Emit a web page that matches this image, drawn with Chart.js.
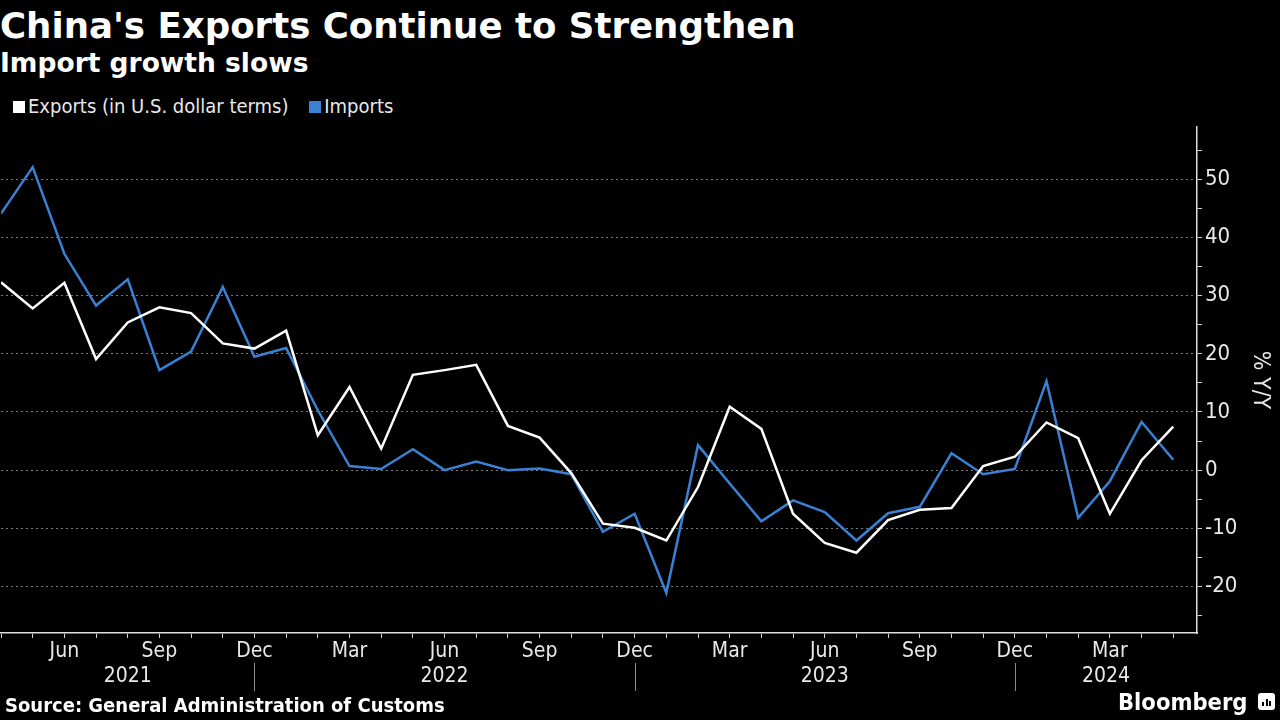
<!DOCTYPE html>
<html>
<head>
<meta charset="utf-8">
<script src="https://cdn.jsdelivr.net/npm/chart.js@4"></script>
<style>
  html, body { margin: 0; padding: 0; background: #000; }
  body { width: 1280px; height: 720px; position: relative; overflow: hidden; font-family: "DejaVu Sans", sans-serif; color: #fff; }
  #chart { position: absolute; left: 0; top: 0; }
  .title { position: absolute; left: 0; top: 5px; font-size: 35.6px; font-weight: bold; white-space: nowrap; line-height: 42px; }
  .subtitle { position: absolute; left: 0; top: 47px; font-size: 26.5px; font-weight: bold; white-space: nowrap; line-height: 32px; }
  .legend { position: absolute; left: 13px; top: 94px; font-size: 20px; line-height: 24px; font-family: "DejaVu Sans Condensed", "DejaVu Sans", sans-serif; font-stretch: condensed; color: #e8e8e8; white-space: nowrap; }
  .legend span.sw { display: inline-block; width: 12px; height: 12px; margin-right: 3px; vertical-align: 0px; }
  .legend span.item { margin-right: 15px; }
  .source { position: absolute; left: 5px; top: 693px; font-size: 20px; line-height: 24px; font-weight: bold; font-family: "DejaVu Sans Condensed", "DejaVu Sans", sans-serif; font-stretch: condensed; white-space: nowrap; }
  .brand { position: absolute; left: 1118px; top: 688px; font-size: 23.5px; line-height: 28px; font-weight: bold; font-family: "DejaVu Sans Condensed", "DejaVu Sans", sans-serif; font-stretch: condensed; white-space: nowrap; }
  .icon { position: absolute; left: 1258px; top: 693px; width: 17px; height: 17px; background: #fff; border-radius: 3px; }
  .icon i { position: absolute; bottom: 4px; width: 2px; background: #000; }
</style>
</head>
<body>
<div class="title">China's Exports Continue to Strengthen</div>
<div class="subtitle">Import growth slows</div>
<div class="legend">
  <span class="item"><span class="sw" style="background:#ffffff"></span>Exports (in U.S. dollar terms)</span>
  <span class="item"><span class="sw" style="background:#3a80d4"></span>Imports</span>
</div>
<canvas id="chart" width="1280" height="720"></canvas>
<div class="source">Source: General Administration of Customs</div>
<div class="brand">Bloomberg</div>
<div class="icon"><i style="left:4px;height:4px"></i><i style="left:7.5px;height:7px"></i><i style="left:11px;height:5px"></i></div>
<script>
// Apr 2021 .. May 2024, monthly, % y/y
const months = ['Apr','May','Jun','Jul','Aug','Sep','Oct','Nov','Dec','Jan','Feb','Mar',
                'Apr','May','Jun','Jul','Aug','Sep','Oct','Nov','Dec','Jan','Feb','Mar',
                'Apr','May','Jun','Jul','Aug','Sep','Oct','Nov','Dec','Jan','Feb','Mar',
                'Apr','May'];
const exportsYoY = [32.3, 27.8, 32.2, 19.1, 25.4, 28.0, 27.0, 21.8, 20.9, 24.0, 6.0, 14.3,
                    3.7, 16.4, 17.2, 18.1, 7.6, 5.6, -0.5, -9.2, -9.9, -12.1, -2.9, 10.9,
                    7.1, -7.5, -12.5, -14.2, -8.6, -6.8, -6.5, 0.7, 2.3, 8.2, 5.5, -7.5,
                    1.7, 7.5];
const importsYoY = [44.1, 52.1, 37.2, 28.3, 32.8, 17.2, 20.4, 31.5, 19.5, 21.0, 10.3, 0.7,
                    0.2, 3.6, 0.0, 1.5, 0.0, 0.3, -0.7, -10.6, -7.5, -21.1, 4.3, -2.3,
                    -8.8, -5.2, -7.2, -12.1, -7.4, -6.3, 2.9, -0.7, 0.2, 15.3, -8.2, -1.9,
                    8.3, 1.8];
const shownMonths = ['Mar', 'Jun', 'Sep', 'Dec'];
const yearLabels = ['2021', '2022', '2023', '2024'];
const yearBreaks = [8, 20, 32]; // index of each December
const yTicks = [-25, -20, -15, -10, -5, 0, 5, 10, 15, 20, 25, 30, 35, 40, 45, 50, 55];

const condensed = '"DejaVu Sans Condensed", "DejaVu Sans", sans-serif';

function toPoints(arr) {
    return arr.map((v, i) => ({ x: i, y: v }));
}

// year labels and separators under the month ticks
const yearPlugin = {
    id: 'yearRow',
    afterDraw(chart) {
        const ctx = chart.ctx;
        const xs = chart.scales.x;
        const edges = [chart.chartArea.left]
            .concat(yearBreaks.map(b => xs.getPixelForValue(b)))
            .concat([chart.chartArea.right]);
        ctx.save();
        ctx.strokeStyle = '#8a8a8a';
        ctx.lineWidth = 1;
        yearBreaks.forEach(b => {
            const px = Math.round(xs.getPixelForValue(b)) + 0.5;
            ctx.beginPath();
            ctx.moveTo(px, 663);
            ctx.lineTo(px, 691);
            ctx.stroke();
        });
        ctx.fillStyle = '#e8e8e8';
        ctx.font = '21px ' + condensed;
        ctx.textAlign = 'center';
        ctx.textBaseline = 'middle';
        yearLabels.forEach((y, i) => {
            ctx.fillText(y, (edges[i] + edges[i + 1]) / 2, 677);
        });
        ctx.restore();
    }
};

new Chart(document.getElementById('chart'), {
    type: 'line',
    data: {
        datasets: [{
            label: 'Exports (in U.S. dollar terms)',
            data: toPoints(exportsYoY),
            borderColor: '#ffffff',
            borderWidth: 2.5,
            pointRadius: 0,
            tension: 0
        }, {
            label: 'Imports',
            data: toPoints(importsYoY),
            borderColor: '#3a80d4',
            borderWidth: 2.5,
            pointRadius: 0,
            tension: 0
        }]
    },
    options: {
        responsive: false,
        animation: false,
        layout: { padding: { top: 127, left: 0, right: 0, bottom: 0 } },
        plugins: {
            legend: { display: false },
            tooltip: { enabled: false }
        },
        scales: {
            x: {
                type: 'linear',
                min: 0,
                max: 37.75,
                afterBuildTicks: function(scale) {
                    scale.ticks = months.map((m, i) => ({ value: i }));
                },
                afterFit: function(scale) { scale.height = 87; },
                ticks: {
                    autoSkip: false,
                    maxRotation: 0,
                    padding: 1,
                    color: '#e8e8e8',
                    font: { family: condensed, size: 21 },
                    callback: function(value) {
                        const m = months[value];
                        return shownMonths.includes(m) ? m : '';
                    }
                },
                grid: {
                    drawOnChartArea: false,
                    drawTicks: true,
                    tickLength: 5,
                    tickColor: '#cfcfcf'
                },
                border: { display: true, color: '#e0e0e0', width: 1.5 }
            },
            y: {
                position: 'right',
                min: -28,
                max: 59,
                afterBuildTicks: function(scale) {
                    scale.ticks = yTicks.map(v => ({ value: v }));
                },
                afterFit: function(scale) { scale.width = 83; },
                ticks: {
                    padding: 3,
                    color: '#e8e8e8',
                    font: { family: condensed, size: 22 },
                    callback: function(value) {
                        return value % 10 === 0 ? String(value) : '';
                    }
                },
                grid: {
                    color: function(c) {
                        return c.tick && c.tick.value % 10 === 0 ? '#7a7a7a' : 'transparent';
                    },
                    lineWidth: 1,
                    tickLength: 5,
                    tickColor: '#cfcfcf',
                    tickBorderDash: []
                },
                border: { display: true, color: '#e0e0e0', width: 1.5, dash: [2, 3] },
                title: {
                    display: true,
                    text: '% Y/Y',
                    color: '#e8e8e8',
                    font: { family: condensed, size: 23 },
                    padding: { top: 6, bottom: 0 }
                }
            }
        }
    },
    plugins: [yearPlugin]
});
</script>
</body>
</html>
